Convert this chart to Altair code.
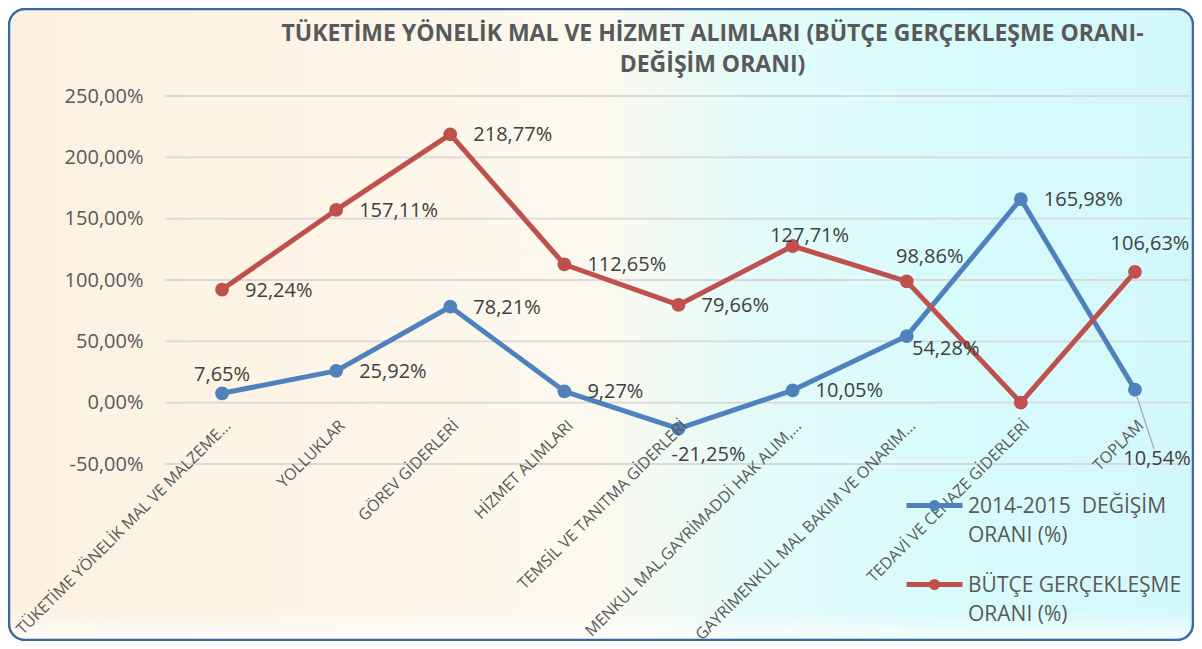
import altair as alt
import pandas as pd

# ---------------- data ----------------
categories = [
    "TÜKETİME YÖNELİK MAL VE MALZEME...",
    "YOLLUKLAR",
    "GÖREV GİDERLERİ",
    "HİZMET ALIMLARI",
    "TEMSİL VE TANITMA GİDERLERİ",
    "MENKUL MAL,GAYRİMADDİ HAK ALIM,...",
    "GAYRİMENKUL MAL BAKIM VE ONARIM...",
    "TEDAVİ VE CENAZE GİDERLERİ",
    "TOPLAM",
]
series_names = ["2014-2015\u00a0 DEĞİŞİM ORANI (%)", "BÜTÇE GERÇEKLEŞME ORANI (%)"]
change_2014_2015 = [7.65, 25.92, 78.21, 9.27, -21.25, 10.05, 54.28, 165.98, 10.54]
budget_realization = [92.24, 157.11, 218.77, 112.65, 79.66, 127.71, 98.86, 0.00, 106.63]
y_ticks = [-50, 0, 50, 100, 150, 200, 250]
title_lines = [
    "TÜKETİME YÖNELİK MAL VE HİZMET ALIMLARI (BÜTÇE GERÇEKLEŞME ORANI-",
    "DEĞİŞİM ORANI)",
]

rows = []
for s, vals in zip(series_names, [change_2014_2015, budget_realization]):
    for c, v in zip(categories, vals):
        rows.append({"series": s, "category": c, "value": v})
df = pd.DataFrame(rows)

# ---------------- style ----------------
W, H = 1027, 368
PAD = {"left": 157, "top": 88, "right": 2, "bottom": 177}
BLUE, RED = "#4f81bd", "#c0504d"
FONT = "Open Sans"
TXT = "#595959"
LBL = "#404040"
PCT = "replace(replace(format({v}, '.2f'), '.', ','), '\u2212', '-') + '%'"

y_scale = alt.Scale(domain=[-50, 250], nice=False, zero=False)
y_axis = alt.Axis(
    title=None, values=y_ticks, domain=False, ticks=False, grid=False,
    labelExpr=PCT.format(v="datum.value"),
    labelFontSize=20, labelFont=FONT, labelColor=TXT, labelPadding=22,
    zindex=1,
)
x_enc = alt.X(
    "category:N",
    sort=categories,
    scale=alt.Scale(type="point", padding=0.5),
    axis=alt.Axis(
        title=None, labelAngle=-45, domain=False, ticks=False, grid=False,
        offset=-61, labelPadding=14, labelFontSize=16, labelFont=FONT,
        labelColor=TXT, labelLimit=500, labelOverlap=False, zindex=1,
    ),
)
color_scale = alt.Scale(domain=series_names, range=[BLUE, RED])

# background frame
bg = alt.Chart(pd.DataFrame({"a": [0]})).mark_rect(
    cornerRadius=16,
    stroke="#3b68a3",
    strokeWidth=2.5,
    fill=alt.LinearGradient(
        gradient="linear",
        stops=[
            alt.GradientStop(color="#fcf1e1", offset=0),
            alt.GradientStop(color="#fdf5e8", offset=0.3),
            alt.GradientStop(color="#fbf9ef", offset=0.5),
            alt.GradientStop(color="#e4fbf8", offset=0.62),
            alt.GradientStop(color="#d8fbfc", offset=0.8),
            alt.GradientStop(color="#d3f8fb", offset=1),
        ],
        x1=0, x2=1, y1=0, y2=0,
    ),
).encode(
    x=alt.value(-PAD["left"] + 1),
    x2=alt.value(W + PAD["right"] - 1),
    y=alt.value(-PAD["top"] + 1),
    y2=alt.value(H + PAD["bottom"] - 1),
)

bottom_glow = alt.Chart(pd.DataFrame({"a": [0]})).mark_rect(
    cornerRadius=14,
    fill=alt.LinearGradient(
        gradient="linear",
        stops=[
            alt.GradientStop(color="rgba(255,255,255,0)", offset=0),
            alt.GradientStop(color="rgba(255,255,255,0.75)", offset=1),
        ],
        x1=0, x2=0, y1=0, y2=1,
    ),
).encode(
    x=alt.value(-PAD["left"] + 3),
    x2=alt.value(W + PAD["right"] - 3),
    y=alt.value(H + PAD["bottom"] - 30),
    y2=alt.value(H + PAD["bottom"] - 3),
)

grid = alt.Chart(pd.DataFrame({"value": y_ticks})).mark_rule(
    color="#d9d9d9", strokeWidth=1.8
).encode(
    y=alt.Y("value:Q", scale=y_scale, axis=y_axis),
    x=alt.value(0),
    x2=alt.value(W),
)

legend_symbol = (
    "M-2.8,-0.7H2.8"
    "M0.3,-0.7A0.3,0.3,0,1,1,-0.3,-0.7A0.3,0.3,0,1,1,0.3,-0.7Z"
)

lines = alt.Chart(df).mark_line(strokeWidth=5, strokeJoin="round").encode(
    x=x_enc,
    y=alt.Y("value:Q", scale=y_scale, axis=y_axis),
    color=alt.Color(
        "series:N",
        scale=color_scale,
        legend=alt.Legend(
            title=None, orient="none", legendX=757, legendY=404,
            direction="vertical", symbolType=legend_symbol, symbolSize=400,
            symbolStrokeWidth=5, labelFont=FONT, labelFontSize=21,
            labelColor=TXT, labelOffset=21, labelLimit=500,
            labelBaseline="alphabetic",
            labelExpr="[replace(datum.label, ' ORANI (%)', ''), 'ORANI (%)']",
            rowPadding=25, padding=0, zindex=1,
        ),
    ),
)

points = alt.Chart(df).mark_point(filled=True, size=190, opacity=1).encode(
    x=alt.X("category:N", sort=categories),
    y=alt.Y("value:Q", scale=y_scale),
    color=alt.Color("series:N", scale=color_scale, legend=None),
)

# label placements (align, dx, dy) per (series index, category index)
placements = [
    ("left", 23, 1, [(1, 0), (1, 1), (1, 2), (1, 3), (1, 4),
                     (0, 1), (0, 2), (0, 3), (0, 5), (0, 7)]),
    ("center", 0, -18, [(0, 0)]),
    ("center", 17, -10, [(1, 5)]),
    ("center", 23, -24, [(1, 6)]),
    ("center", 15, -28, [(1, 8)]),
    ("center", 30, 26, [(0, 4)]),
    ("center", 39, 13, [(0, 6)]),
    ("center", 22, 69, [(0, 8)]),
]

label_layers = []
for align, dx, dy, members in placements:
    expr = " || ".join(
        f"(datum.series == '{series_names[s]}' && datum.category == '{categories[c]}')"
        for s, c in members
    )
    label_layers.append(
        alt.Chart(df)
        .transform_filter(expr)
        .transform_calculate(label=PCT.format(v="datum.value"))
        .mark_text(align=align, baseline="middle", dx=dx, dy=dy,
                   font=FONT, fontSize=20, color=LBL)
        .encode(
            x=alt.X("category:N", sort=categories),
            y=alt.Y("value:Q", scale=y_scale),
            text="label:N",
        )
    )

leader = (
    alt.Chart(df)
    .transform_filter(
        f"datum.series == '{series_names[0]}' && datum.category == '{categories[8]}'"
    )
    .mark_rule(color="#a6a6a6", strokeWidth=1.2, xOffset=2, yOffset=7,
               x2Offset=19, y2Offset=59)
    .encode(
        x=alt.X("category:N", sort=categories),
        x2="category:N",
        y=alt.Y("value:Q", scale=y_scale),
        y2="value:Q",
    )
)

chart = (
    alt.layer(bg, bottom_glow, grid, lines, points, *label_layers, leader)
    .properties(
        width=W,
        height=H,
        padding=PAD,
        autosize=alt.AutoSizeParams(type="none"),
        title=alt.TitleParams(
            title_lines, font=FONT, fontSize=23, fontWeight="bold",
            color=TXT, anchor="middle", frame="group", dx=34, offset=-69,
            lineHeight=31, zindex=1,
        ),
    )
    .configure_view(stroke=None)
    .configure(background="white", style={"guide-label": {"lineHeight": 29}})
)

chart.save("out.html", embed_options={"renderer": "svg", "actions": False})
